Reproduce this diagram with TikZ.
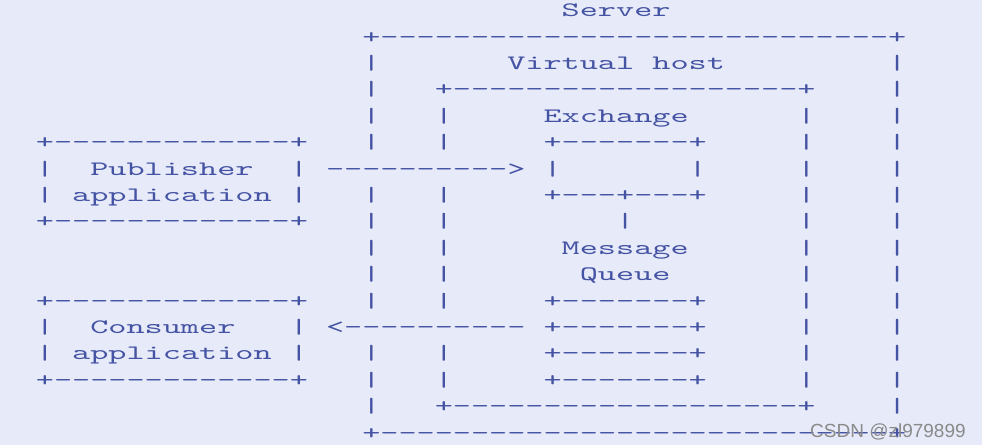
\documentclass[tikz,border=0pt]{standalone}
\usepackage{fontspec}
\usepackage{xcolor}
\usepackage{tikz}
\newfontfamily\asciifont[FakeStretch=1.685]{lmmono10-regular.otf}
\newfontfamily\markfont{Liberation Sans}
\definecolor{amqpBg}{HTML}{E7EAF9}
\definecolor{amqpInk}{HTML}{4453A3}
\definecolor{amqpMark}{HTML}{8A8A8A}
\tikzset{
  asc/.style={font=\asciifont\fontsize{20.5}{24}\selectfont, text=amqpInk,
    anchor=base west, inner sep=0pt, outer sep=0pt},
  bar/.style={asc},
  wmark/.style={font=\markfont\fontsize{19}{22}\selectfont, text=amqpMark,
    anchor=base west, inner sep=0pt}
}

\begin{document}
\begin{tikzpicture}[x=18.13pt, y=-26.4pt]
  % page: col 0 / row 0 at the origin
  \fill[amqpBg] (-45pt,16.7pt) rectangle ++(982pt,-445pt);
  \useasboundingbox (-45pt,16.7pt) rectangle ++(982pt,-445pt);

  % server and virtual host
  \node[asc] (srv) at (28.5,0) {Server};
  \node[asc] (srvtop) at (17.5,1) {+----------------------------+};
  \node[asc] (vhost) at (25.5,2) {Virtual host};
  \node[asc] (vhtop) at (21.5,3) {+-------------------+};
  \node[asc] (vhbot) at (21.5,15) {+-------------------+};
  \node[asc] (srvbot) at (17.5,16) {+----------------------------+};
  \foreach \r in {2,3,4,5,7,8,9,10,11,13,14,15}
    \node[bar] (srvl\r) at (17.5,\r) {|};
  \foreach \r in {4,5,7,8,9,10,11,13,14}
    \node[bar] (vhl\r) at (21.5,\r) {|};
  \foreach \r in {4,...,14}
    \node[bar] (vhr\r) at (41.5,\r) {|};
  \foreach \r in {2,...,15}
    \node[bar] (srvr\r) at (46.5,\r) {|};

  % exchange
  \node[asc] (exch) at (27.5,4) {Exchange};
  \node[asc] (extop) at (27.5,5) {+-------+};
  \node[bar] (exl) at (27.5,6) {|};
  \node[bar] (exr) at (35.5,6) {|};
  \node[asc] (exbot) at (27.5,7) {+---+---+};
  \node[bar] (bind) at (31.5,8) {|};

  % message queue
  \node[asc] (msg) at (28.5,9) {Message};
  \node[asc] (queue) at (29.5,10) {Queue};
  \foreach \r in {11,...,14}
    \node[asc] (q\r) at (27.5,\r) {+-------+};

  % publisher
  \node[asc] (pubtop) at (-0.5,5) {+-------------+};
  \node[bar] (publ) at (-0.5,6) {|};
  \node[asc] (pubname) at (2.5,6) {Publisher};
  \node[bar] (pubr) at (13.5,6) {|};
  \node[bar] (publ2) at (-0.5,7) {|};
  \node[asc] (pubapp) at (1.5,7) {application};
  \node[bar] (pubr2) at (13.5,7) {|};
  \node[asc] (pubbot) at (-0.5,8) {+-------------+};
  \node[asc] (pubarrow) at (15.5,6) {---------->};

  % consumer
  \node[asc] (contop) at (-0.5,11) {+-------------+};
  \node[bar] (conl) at (-0.5,12) {|};
  \node[asc] (conname) at (2.5,12) {Consumer};
  \node[bar] (conr) at (13.5,12) {|};
  \node[bar] (conl2) at (-0.5,13) {|};
  \node[asc] (conapp) at (1.5,13) {application};
  \node[bar] (conr2) at (13.5,13) {|};
  \node[asc] (conbot) at (-0.5,14) {+-------------+};
  \node[asc] (conarrow) at (15.5,12) {<----------};

  \node[wmark] (wm) at (765pt,-420.3pt) {CSDN @zl979899};
\end{tikzpicture}
\end{document}
